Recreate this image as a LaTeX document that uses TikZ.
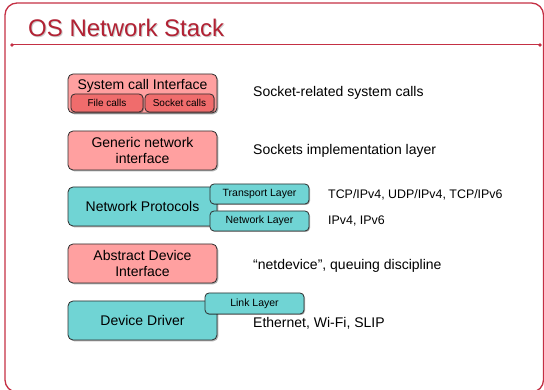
\documentclass[tikz,border=0pt]{standalone}
\usepackage{fontspec}
\setmainfont{Liberation Sans}
\usetikzlibrary{shadows}
\definecolor{framered}{RGB}{196,48,68}
\definecolor{titlered}{RGB}{178,34,52}
\definecolor{pinkfill}{RGB}{255,160,160}
\definecolor{redfill}{RGB}{240,108,108}
\definecolor{tealfill}{RGB}{112,212,212}
\definecolor{edge}{RGB}{45,45,45}
\tikzset{
  layerbox/.style={draw=edge, line width=0.8pt, rounded corners=5pt,
    drop shadow={shadow xshift=1.3pt, shadow yshift=-1.3pt, fill=black, opacity=0.3},
    minimum width=149pt, minimum height=39pt, inner sep=0pt, align=center,
    font=\fontsize{14}{16.5}\selectfont},
  pinkbox/.style={layerbox, fill=pinkfill},
  tealbox/.style={layerbox, fill=tealfill},
  subbox/.style={draw=edge, line width=0.8pt, rounded corners=4pt,
    drop shadow={shadow xshift=1pt, shadow yshift=-1pt, fill=black, opacity=0.3},
    inner sep=0pt, font=\fontsize{10.5}{12}\selectfont},
  desc/.style={anchor=west, inner sep=0pt, font=\fontsize{14}{16}\selectfont},
  descsmall/.style={anchor=west, inner sep=0pt, font=\fontsize{12.4}{14}\selectfont},
}
\begin{document}
\begin{tikzpicture}[x=1pt,y=-1pt]
\useasboundingbox (0,0) rectangle (544,390);
% frame
\draw[framered, line width=1.3pt, rounded corners=12pt] (5,3) rectangle (543.5,392);
\draw[framered, line width=1pt] (12,45) -- (540,45);
\fill[framered] (12,45) circle (1.8pt) (540,45) circle (1.8pt);
\node[anchor=base west, inner sep=0pt, text=black!40, font=\fontsize{24}{28}\selectfont, opacity=0.5] at (29,38) {OS Network Stack};
\node[anchor=base west, inner sep=0pt, text=titlered, font=\fontsize{24}{28}\selectfont] (title) at (28,37) {OS Network Stack};

% system call interface
\node[pinkbox] (sci) at (142.5,93.5) {};
\node[inner sep=0pt, font=\fontsize{14}{16}\selectfont] (scitext) at (142.5,86) {System call Interface};
\node[subbox, fill=redfill, minimum width=72pt, minimum height=18pt, font=\fontsize{10}{12}\selectfont] (file) at (107,103) {File calls};
\node[subbox, fill=redfill, minimum width=69pt, minimum height=18pt, font=\fontsize{10}{12}\selectfont] (sock) at (179.5,103) {Socket calls};

% generic
\node[pinkbox] (gen) at (142.5,150.5) {Generic network\\interface};

% network protocols
\node[tealbox] (np) at (142.5,206.5) {Network Protocols};
\node[subbox, fill=tealfill, minimum width=99pt, minimum height=20pt] (tl) at (259.5,194) {Transport Layer};
\node[subbox, fill=tealfill, minimum width=99pt, minimum height=20pt] (nl) at (259.5,221) {Network Layer};

% abstract device
\node[pinkbox] (adi) at (142.5,263.5) {Abstract Device\\Interface};

% device driver
\node[tealbox] (dd) at (142.5,320.5) {Device Driver};
\node[subbox, fill=tealfill, minimum width=99pt, minimum height=21pt] (ll) at (254.5,303.5) {Link Layer};

% descriptions
\node[desc] (d1) at (253,93) {Socket-related system calls};
\node[desc] (d2) at (253,151) {Sockets implementation layer};
\node[descsmall] (d3) at (328,195) {TCP/IPv4, UDP/IPv4, TCP/IPv6};
\node[descsmall] (d4) at (328,221) {IPv4, IPv6};
\node[desc] (d5) at (253,266) {“netdevice”, queuing discipline};
\node[desc] (d6) at (253,323) {Ethernet, Wi-Fi, SLIP};
\end{tikzpicture}
\end{document}
